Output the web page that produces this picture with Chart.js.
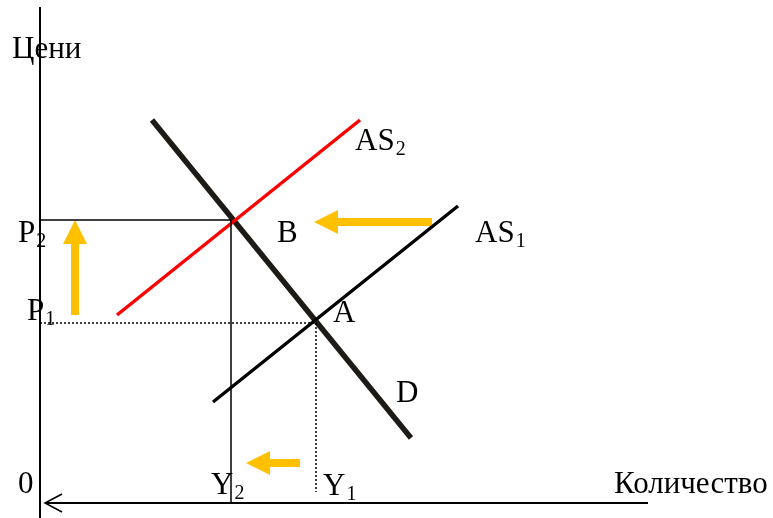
<!DOCTYPE html>
<html>
<head>
<meta charset="utf-8">
<script src="https://cdn.jsdelivr.net/npm/chart.js@4/dist/chart.umd.min.js"></script>
<style>
    body { margin: 0; background: #ffffff; }
    canvas { display: block; }
</style>
</head>
<body>
<canvas id="asChart" width="773" height="518"></canvas>
<script>
// curves (quantity, price), origin at the axes crossing
const demandQ = [112, 371];
const demandP = [360, 42];
const as1Q = [173, 418];
const as1P = [78, 274];
const as2Q = [77, 320];
const as2P = [165, 360];

// equilibrium levels
const p1 = 157;
const p2 = 260;
const y1 = 276;
const y2 = 191;

// axes: the quantity axis sits below the tick labels
const baseP = -23;
const axisQ = [5, 608];
const axisP = [-38, 473];

// shift arrows: [fromQ, fromP, toQ, toP]
const shiftArrows = [
    [35, 165, 35, 260],
    [392, 258, 274, 258],
    [260, 17, 206, 17]
];

// labels
const labelText = ["Цени", "AS", "AS", "B", "A", "D", "P", "P", "Y", "Y", "0", "Количество"];
const labelSub = ["", "2", "1", "", "", "", "2", "1", "2", "1", "", ""];
const labelQ = [-28, 315, 435, 237, 293, 356, -22, -13, 171, 283, -22, 574];
const labelP = [422, 330, 238, 238, 158, 78, 238, 160, -14, -15, -13, -13];

const pts = (xs, ys) => xs.map((x, i) => ({ x: x, y: ys[i] }));

function lineSet(data, color, width, dash) {
    return {
        data: data,
        showLine: true,
        borderColor: color,
        borderWidth: width,
        borderDash: dash || [],
        pointRadius: 0,
        fill: false,
        tension: 0
    };
}

const arrowPlugin = {
    id: "shiftArrows",
    beforeDatasetsDraw(chart) {
        const ctx = chart.ctx;
        const sx = chart.scales.x;
        const sy = chart.scales.y;
        ctx.save();
        ctx.fillStyle = "#FFC000";
        shiftArrows.forEach(a => {
            const x0 = sx.getPixelForValue(a[0]);
            const y0 = sy.getPixelForValue(a[1]);
            const x1 = sx.getPixelForValue(a[2]);
            const y1p = sy.getPixelForValue(a[3]);
            const len = Math.hypot(x1 - x0, y1p - y0);
            const ux = (x1 - x0) / len;
            const uy = (y1p - y0) / len;
            const nx = -uy, ny = ux;
            const head = 24, hw = 12, sw = 4;
            const bx = x1 - ux * head, by = y1p - uy * head;
            ctx.beginPath();
            ctx.moveTo(x0 + nx * sw, y0 + ny * sw);
            ctx.lineTo(bx + nx * sw, by + ny * sw);
            ctx.lineTo(bx + nx * hw, by + ny * hw);
            ctx.lineTo(x1, y1p);
            ctx.lineTo(bx - nx * hw, by - ny * hw);
            ctx.lineTo(bx - nx * sw, by - ny * sw);
            ctx.lineTo(x0 - nx * sw, y0 - ny * sw);
            ctx.closePath();
            ctx.fill();
        });
        ctx.restore();
    },
    afterDatasetsDraw(chart) {
        const ctx = chart.ctx;
        const sx = chart.scales.x;
        const sy = chart.scales.y;
        ctx.save();
        ctx.fillStyle = "#000000";
        ctx.textBaseline = "alphabetic";
        ctx.textAlign = "left";
        labelText.forEach((t, i) => {
            const x = sx.getPixelForValue(labelQ[i]);
            const y = sy.getPixelForValue(labelP[i]);
            ctx.font = "31px 'Liberation Serif'";
            ctx.fillText(t, x, y);
            if (labelSub[i]) {
                const w = ctx.measureText(t).width;
                ctx.font = "20px 'Liberation Serif'";
                ctx.fillText(labelSub[i], x + w + 1, y + 5);
            }
        });
        ctx.restore();
    }
};

new Chart(document.getElementById("asChart"), {
    type: "scatter",

    data: {
        datasets: [
            lineSet(pts([0, 0], axisP), "#000000", 2),
            lineSet(pts(axisQ, [baseP, baseP]), "#000000", 2),
            lineSet(pts([22, 5, 22], [baseP + 9, baseP, baseP - 9]), "#000000", 1.5),
            lineSet(pts([0, y2], [p2, p2]), "#000000", 1.5),
            lineSet(pts([y2, y2], [p2, baseP]), "#000000", 1.5),
            lineSet(pts([0, y1], [p1, p1]), "#000000", 1.5, [2, 2]),
            lineSet(pts([y1, y1], [p1, -12]), "#000000", 1.5, [2, 2]),
            lineSet(pts(as2Q, as2P), "#FF0000", 3.5),
            lineSet(pts(as1Q, as1P), "#000000", 3.5),
            lineSet(pts(demandQ, demandP), "#1E1B16", 5.5)
        ]
    },

    options: {
        responsive: false,
        animation: false,
        layout: { padding: 0 },
        plugins: {
            legend: { display: false },
            tooltip: { enabled: false }
        },
        scales: {
            x: { type: "linear", min: -40, max: 733, display: false },
            y: { type: "linear", min: -38, max: 480, display: false }
        }
    },

    plugins: [arrowPlugin]
});
</script>
</body>
</html>
